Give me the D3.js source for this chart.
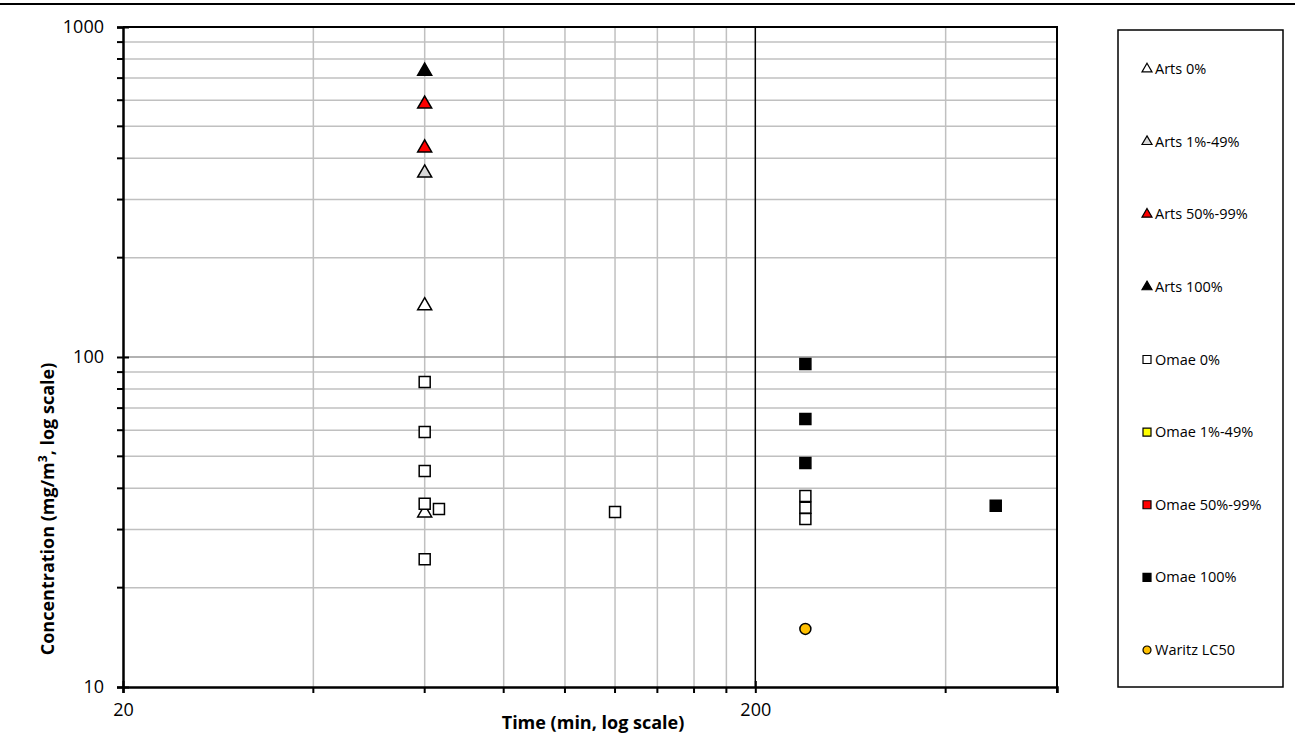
<!DOCTYPE html>
<html>
<head>
<meta charset="utf-8">
<script src="https://cdn.jsdelivr.net/npm/d3@7"></script>
<style>
  body { margin: 0; background: #fff; }
  text { font-family: "Open Sans", "Noto Sans", sans-serif; }
</style>
</head>
<body>
<div id="container"></div>
<script>
/* DATA */
const seriesNames = ["Arts 0%", "Arts 1%-49%", "Arts 50%-99%", "Arts 100%",
  "Omae 0%", "Omae 1%-49%", "Omae 50%-99%", "Omae 100%", "Waritz LC50"];
const artsZero = [[60, 143], [60, 33.7]];
const artsLow = [[60, 361]];
const artsHigh = [[60, 584], [60, 430]];
const artsFull = [[60, 735]];
const omaeZero = [[60, 84], [60, 59.3], [60, 45.1], [60, 35.9], [60, 24.4], [63.2, 34.6],
  [120, 33.9], [240, 37.9], [240, 34.9], [240, 32.3]];
const omaeLow = [];
const omaeHigh = [];
const omaeFull = [[240, 95.2], [240, 64.9], [240, 47.7], [480, 35.4]];
const waritz = [[240, 15.0]];
const xTicks = [20, 200];
const yTicks = [10, 100, 1000];

/* CONSTANTS */
const width = 1295, height = 742;
const plotLeft = 123, plotRight = 1057, plotTop = 27, plotBottom = 687;

const series = [
  { name: seriesNames[0], data: artsZero, shape: "tri", fill: "#ffffff" },
  { name: seriesNames[1], data: artsLow, shape: "tri", fill: "#d9d9d9" },
  { name: seriesNames[2], data: artsHigh, shape: "tri", fill: "#ff0000" },
  { name: seriesNames[3], data: artsFull, shape: "tri", fill: "#000000" },
  { name: seriesNames[4], data: omaeZero, shape: "sq", fill: "#ffffff" },
  { name: seriesNames[5], data: omaeLow, shape: "sq", fill: "#ffff00" },
  { name: seriesNames[6], data: omaeHigh, shape: "sq", fill: "#ff0000" },
  { name: seriesNames[7], data: omaeFull, shape: "sq", fill: "#000000" },
  { name: seriesNames[8], data: waritz, shape: "circ", fill: "#ffc000" }
];

/* SCALES */
const xScale = d3.scaleLog().domain([20, 600]).range([plotLeft, plotRight]);
const yScale = d3.scaleLog().domain([10, 1000]).range([plotBottom, plotTop]);

const xMinor = d3.range(40, 200, 20).concat([400, 600]);
const yMinor = d3.range(20, 100, 10).concat(d3.range(200, 1000, 100));

const svg = d3.select("#container").append("svg")
  .attr("width", width).attr("height", height);

// top border line of the chart area
svg.append("line")
  .attr("x1", 0).attr("x2", width).attr("y1", 4).attr("y2", 4)
  .attr("stroke", "#000").attr("stroke-width", 2);

// gridlines
svg.append("g").selectAll("line").data(yMinor).join("line")
  .attr("x1", plotLeft).attr("x2", plotRight)
  .attr("y1", d => yScale(d)).attr("y2", d => yScale(d))
  .attr("stroke", "#c0c0c0").attr("stroke-width", 1.5);
svg.append("g").selectAll("line").data(xMinor).join("line")
  .attr("y1", plotTop).attr("y2", plotBottom)
  .attr("x1", d => xScale(d)).attr("x2", d => xScale(d))
  .attr("stroke", "#c0c0c0").attr("stroke-width", 1.5);
svg.append("line")
  .attr("x1", plotLeft).attr("x2", plotRight)
  .attr("y1", yScale(100)).attr("y2", yScale(100))
  .attr("stroke", "#999").attr("stroke-width", 1.5);
svg.append("line")
  .attr("y1", plotTop).attr("y2", plotBottom)
  .attr("x1", xScale(200)).attr("x2", xScale(200))
  .attr("stroke", "#000").attr("stroke-width", 1.5);

// plot border (top and right)
svg.append("path")
  .attr("d", `M${plotLeft},${plotTop}H${plotRight}V${plotBottom}`)
  .attr("fill", "none").attr("stroke", "#000").attr("stroke-width", 2);

// axes
const yAxis = svg.append("g")
  .attr("transform", `translate(${plotLeft},0)`)
  .call(d3.axisLeft(yScale).tickValues(yTicks).tickFormat(d3.format("d")).tickSize(6).tickPadding(13));
yAxis.append("g").selectAll("line").data(yMinor).join("line")
  .attr("x1", -6).attr("x2", 0)
  .attr("y1", d => yScale(d)).attr("y2", d => yScale(d))
  .attr("stroke", "#000").attr("stroke-width", 2);

const xAxis = svg.append("g")
  .attr("transform", `translate(0,${plotBottom})`)
  .call(d3.axisBottom(xScale).tickValues(xTicks).tickFormat(d3.format("d")).tickSize(6).tickPadding(10));
xAxis.append("g").selectAll("line").data(xMinor).join("line")
  .attr("y1", 0).attr("y2", 6)
  .attr("x1", d => xScale(d)).attr("x2", d => xScale(d))
  .attr("stroke", "#000").attr("stroke-width", 2);

[yAxis, xAxis].forEach(g => {
  g.select(".domain").attr("stroke", "#000").attr("stroke-width", 2.5);
  g.selectAll(".tick line").attr("stroke-width", 2);
  g.selectAll(".tick text").attr("font-size", 18).attr("fill", "#000")
    .style("font-family", "'Open Sans', sans-serif");
});
yAxis.selectAll(".tick line").attr("x2", 6).attr("x1", -6);
xAxis.selectAll(".tick line").attr("y1", -6);

// axis titles
svg.append("text")
  .attr("x", 593).attr("y", 729)
  .attr("text-anchor", "middle")
  .attr("font-size", 18).attr("font-weight", "bold")
  .text("Time (min, log scale)");

const yTitle = svg.append("text")
  .attr("transform", "translate(54,509) rotate(-90)")
  .attr("text-anchor", "middle")
  .attr("font-size", 18).attr("font-weight", "bold");
yTitle.append("tspan").text("Concentration (mg/m");
yTitle.append("tspan").attr("font-size", 12).attr("dy", -7).text("3");
yTitle.append("tspan").attr("dy", 7).text(", log scale)");

/* MARKERS */
function marker(sel, shape, size) {
  if (shape === "tri") {
    sel.attr("d", d3.symbol(d3.symbolTriangle, size * size * Math.sqrt(3) / 4)());
  } else if (shape === "sq") {
    sel.attr("d", d3.symbol(d3.symbolSquare, size * size)());
  } else {
    sel.attr("d", d3.symbol(d3.symbolCircle, size * size * Math.PI / 4)());
  }
}

series.forEach(s => {
  const size = s.shape === "tri" ? 14 : 11;
  svg.append("g").selectAll("path").data(s.data).join("path")
    .attr("transform", d => `translate(${xScale(d[0])},${yScale(d[1])})`)
    .call(marker, s.shape, size)
    .attr("fill", s.fill)
    .attr("stroke", "#000").attr("stroke-width", 1.5);
});

/* LEGEND */
svg.append("rect")
  .attr("x", 1118).attr("y", 30).attr("width", 165).attr("height", 657)
  .attr("fill", "#fff").attr("stroke", "#000").attr("stroke-width", 1.5);

const legendY = d3.scalePoint().domain(seriesNames).range([69, 650]);
const legend = svg.append("g").selectAll("g").data(series).join("g")
  .attr("transform", d => `translate(1147,${legendY(d.name)})`);
legend.append("path")
  .each(function (d) {
    const size = d.shape === "tri" ? 10 : 8;
    d3.select(this).call(marker, d.shape, size);
  })
  .attr("fill", d => d.fill)
  .attr("stroke", "#000").attr("stroke-width", 1.2);
legend.append("text")
  .attr("x", 8).attr("y", 5)
  .attr("font-size", 14.5).attr("fill", "#000")
  .text(d => d.name);
</script>
</body>
</html>
